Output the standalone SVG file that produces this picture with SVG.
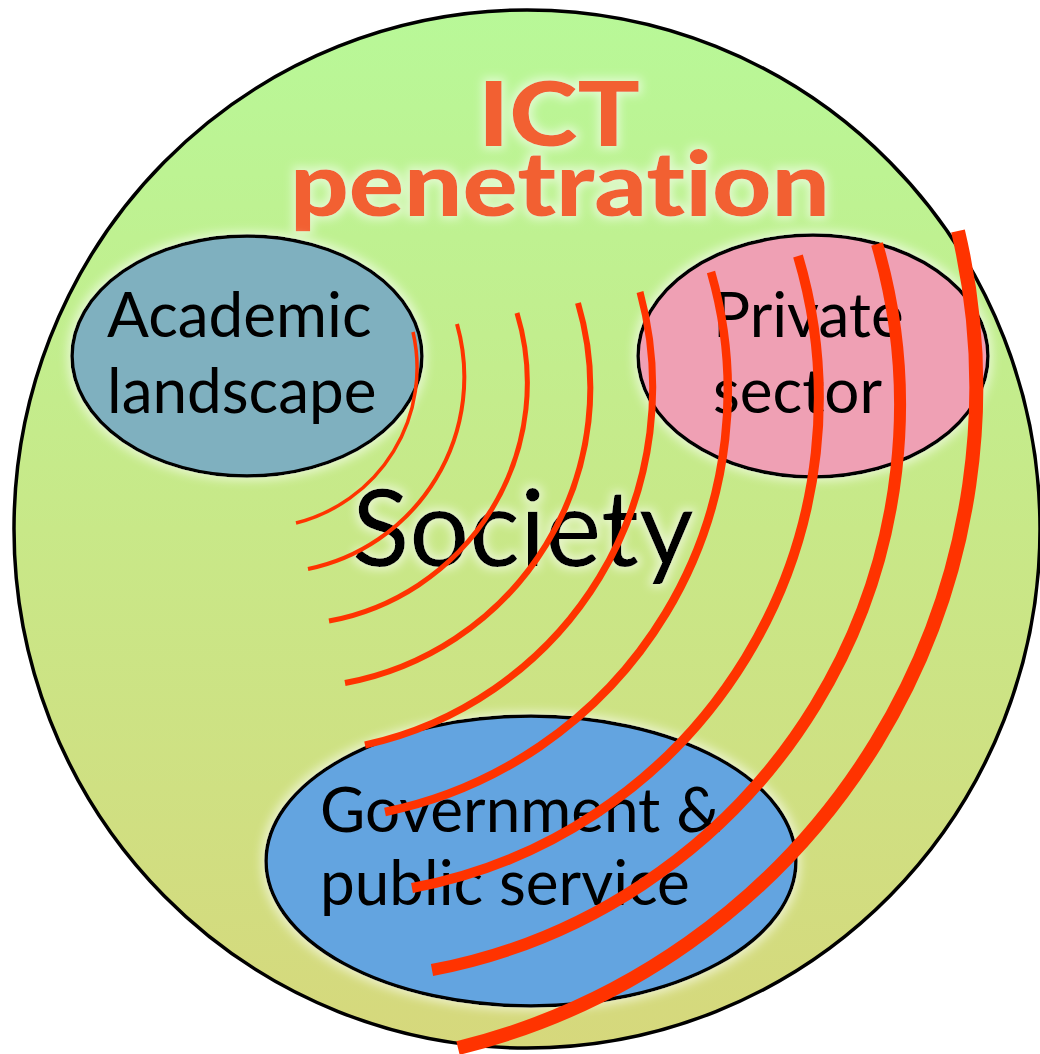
<svg xmlns="http://www.w3.org/2000/svg" width="1040" height="1054" viewBox="0 0 1040 1054">
<defs>
<linearGradient id="bg" x1="0" y1="0" x2="0" y2="1">
<stop offset="0" stop-color="#b8f898"/>
<stop offset="0.5" stop-color="#c8e888"/>
<stop offset="1" stop-color="#d6d87c"/>
</linearGradient>
<filter id="glow" x="-20%" y="-20%" width="140%" height="140%">
<feMorphology in="SourceAlpha" operator="dilate" radius="3" result="d"/>
<feGaussianBlur in="d" stdDeviation="5" result="b"/>
<feFlood flood-color="#ffffff" flood-opacity="0.55"/>
<feComposite in2="b" operator="in" result="g"/>
<feMerge><feMergeNode in="g"/><feMergeNode in="SourceGraphic"/></feMerge>
</filter>
<style>
text{font-variant-ligatures:none}
.node{stroke:#000;stroke-width:3.5}
.lbl{font-family:Lato,"Open Sans","Liberation Sans",sans-serif;fill:#000}
.ttl{font-family:Lato,"Liberation Sans",sans-serif;font-weight:900;font-size:90px;fill:#f26030}
.arc{fill:none;stroke:#ff3300;stroke-linecap:butt}
</style>
</defs>
<g id="society">
<ellipse cx="527" cy="529" rx="513" ry="519" fill="url(#bg)" stroke="#000" stroke-width="3.5"/>
</g>
<g id="title" filter="url(#glow)">
<text class="ttl" x="478" y="146" textLength="162" lengthAdjust="spacingAndGlyphs">ICT</text>
<text class="ttl" x="290" y="216" textLength="540" lengthAdjust="spacingAndGlyphs">penetration</text>
</g>
<g id="academic" filter="url(#glow)">
<ellipse class="node" cx="247" cy="356" rx="175" ry="120" fill="#7fb0bf"/>
<text class="lbl" x="107" y="337" font-size="62">Academic</text>
<text class="lbl" x="107" y="413" font-size="62">landscape</text>
</g>
<g id="private" filter="url(#glow)">
<ellipse class="node" cx="813" cy="356" rx="175" ry="121" fill="#efa0b4"/>
<text class="lbl" x="713" y="337" font-size="62">Private</text>
<text class="lbl" x="713" y="413" font-size="62">sector</text>
</g>
<g id="government" filter="url(#glow)">
<ellipse class="node" cx="531" cy="861" rx="265" ry="145" fill="#64a4e0"/>
<text class="lbl" x="320" y="832" font-size="62">Government &amp;</text>
<text class="lbl" x="320" y="905" font-size="62">public service</text>
</g>
<g id="society-label" filter="url(#glow)">
<text class="lbl" x="352" y="566" font-size="106">Society</text>
</g>
<g id="connectors">
<path class="arc" stroke-width="3.5" d="M413 332 A160 160 0 0 1 296 523"/>
<path class="arc" stroke-width="4" d="M457 324 A196 196 0 0 1 308 569"/>
<path class="arc" stroke-width="5" d="M517 313 A242 242 0 0 1 329 621"/>
<path class="arc" stroke-width="6" d="M578 303 A300 300 0 0 1 345 683"/>
<path class="arc" stroke-width="7" d="M640 292 A366 366 0 0 1 365 745"/>
<path class="arc" stroke-width="8.5" d="M711 272 A430 430 0 0 1 385 812"/>
<path class="arc" stroke-width="10" d="M798 256 A498 498 0 0 1 412 888"/>
<path class="arc" stroke-width="12" d="M877 244 A575 575 0 0 1 432 970"/>
<path class="arc" stroke-width="14" d="M958 231 A680 680 0 0 1 458 1048"/>
</g>
</svg>
